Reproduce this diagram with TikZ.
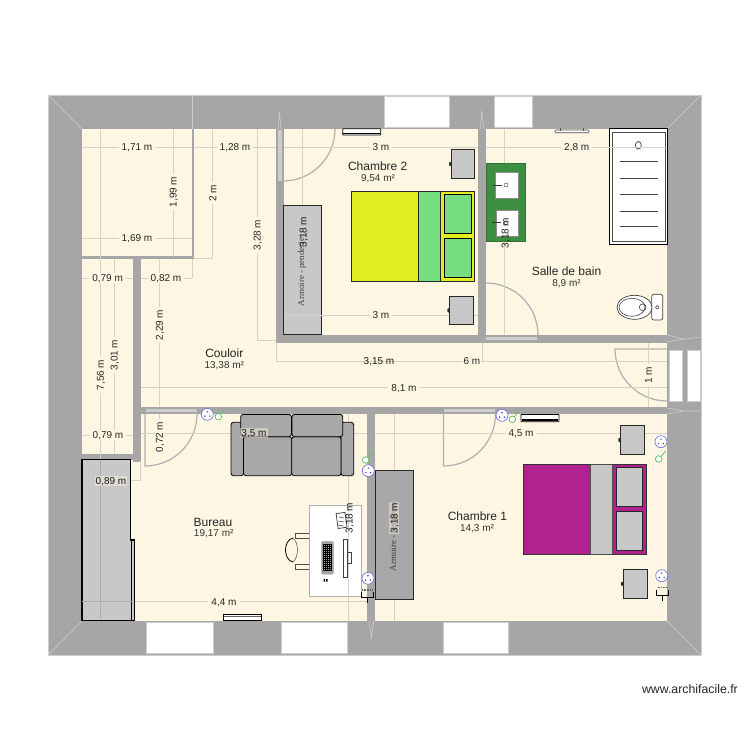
\documentclass[tikz,border=0pt]{standalone}
\usepackage{fontspec}
\setmainfont{Liberation Sans}
\newfontfamily\serifarm{Liberation Serif}
\definecolor{wallc}{RGB}{166,166,166}
\definecolor{floorc}{RGB}{252,246,226}
\definecolor{dimc}{RGB}{214,210,196}
\definecolor{lightw}{RGB}{205,205,205}
\definecolor{doorc}{RGB}{176,176,176}
\definecolor{furn}{RGB}{200,200,200}
\definecolor{sofac}{RGB}{168,168,168}
\definecolor{bedy}{RGB}{224,238,34}
\definecolor{bedg}{RGB}{116,222,128}
\definecolor{bedm}{RGB}{176,35,143}
\definecolor{sinkg}{RGB}{62,142,65}
\definecolor{sockc}{RGB}{60,60,210}
\definecolor{swc}{RGB}{90,190,100}
\definecolor{edgec}{RGB}{40,40,40}
\tikzset{
 wallfill/.style={fill=wallc,draw=none},
 winfill/.style={fill=white,draw=lightw,line width=0.8pt},
 doorbar/.style={fill=lightw,draw=none},
 doorline/.style={draw=doorc,line width=1.2pt},
 joinline/.style={draw=lightw,line width=0.6pt},
 dimline/.style={draw=dimc,line width=0.9pt},
 furnbox/.style={fill=furn,draw=edgec,line width=0.8pt},
 sofabox/.style={fill=sofac,draw=black,line width=0.8pt,rounded corners=2.5pt},
 plain/.style={draw=black,line width=0.8pt},
 armtext/.style={font=\serifarm\fontsize{9}{11}\selectfont,text=black!75,rotate=90,inner sep=0pt},
 lab/.style={font=\fontsize{10}{12}\selectfont,text=black!85,fill=floorc,inner xsep=3pt,inner ysep=1pt,text height=7.2pt,text depth=0pt},
 labsee/.style={font=\fontsize{10}{12}\selectfont,text=black!90,fill=floorc,fill opacity=0.45,text opacity=1,inner xsep=1pt,inner ysep=1pt,text height=7.2pt,text depth=0pt},
 labbare/.style={font=\fontsize{10}{12}\selectfont,text=black!90,inner sep=0pt,text height=7.2pt,text depth=0pt},
 room/.style={font=\fontsize{12}{14}\selectfont,text=black!85,inner sep=0pt},
 area/.style={font=\fontsize{10}{12}\selectfont,text=black!80,inner sep=0pt,text height=7.2pt,text depth=0pt},
}
\newcommand{\socket}[2]{%
 \fill[white,draw=sockc!70,line width=0.7pt] (#1,#2) circle[radius=6];
 \fill[sockc] (#1,#2-2.6) circle[radius=0.8] (#1-2.4,#2+1.8) circle[radius=0.8] (#1+2.4,#2+1.8) circle[radius=0.8];}
\newcommand{\switchgl}[4]{%
 \draw[swc,line width=0.7pt] (#1,#2) -- (#3,#4);
 \fill[white,draw=swc,line width=0.7pt] (#1,#2) circle[radius=3.3];}
\newcommand{\tvplug}[2]{%
 \draw[black!60,line width=1.2pt,dash pattern=on 1pt off 0.6pt] (#1-5,#2-4) -- (#1+5,#2-4);
 \draw[black,line width=1pt] (#1-6,#2-2) -- (#1-6,#2+3.5) -- (#1+6,#2+3.5) -- (#1+6,#2-2);
 \draw[black,line width=1pt] (#1,#2+3.5) -- (#1,#2+9);}
\newcommand{\stand}[4]{%
 \filldraw[fill=furn,draw=edgec,line width=0.8pt] (#1,#2) rectangle (#3,#4);
 \fill[edgec] (#1-1,{(#2+#4)/2}) ellipse[x radius=1,y radius=2.2];}
\begin{document}
\begin{tikzpicture}[x=1pt,y=-1pt]
\useasboundingbox (0,0) rectangle (750,750);
\fill[white] (0,0) rectangle (750,750);
% outer walls and floor
\filldraw[fill=wallc,draw=lightw,line width=0.8pt] (48,95) rectangle (701,655);
\fill[floorc] (82,129) rectangle (667,621);
% corner mitres and wall joins
\draw[joinline] (48,95) -- (82,129) (701,95) -- (667,129) (48,655) -- (82,621) (701,655) -- (667,621);
\draw[joinline] (192.7,96) -- (192.7,129);
\draw[joinline] (278,129) -- (279.5,112) -- (281,129) (480,129) -- (481.7,112) -- (484,129);
\draw[joinline] (369,621) -- (371.5,638) -- (373.5,621);
\draw[joinline] (667,335) -- (684,339) -- (701,337) (667,342) -- (684,339);
\draw[joinline] (667,408) -- (684,411) -- (701,411) (667,414) -- (684,411);
% interior walls
\fill[wallc] (191.7,129) rectangle (194.2,258.7);
\fill[wallc] (82,256.4) rectangle (194.2,258.7);
\fill[wallc] (132.7,258.7) rectangle (140.7,461.5);
\fill[wallc] (82,454) rectangle (140.7,459.5);
\fill[wallc] (137,407.2) rectangle (667,414.4);
\fill[wallc] (276,129) rectangle (284,343);
\fill[wallc] (276,334.5) rectangle (667,342.7);
\fill[wallc] (478,129) rectangle (486,343);
\fill[wallc] (367.3,414) rectangle (375.3,621);
% windows
\filldraw[winfill] (384,96) rectangle (449,127);
\filldraw[winfill] (494,96) rectangle (532,127);
\filldraw[winfill] (146.7,622) rectangle (213.7,653);
\filldraw[winfill] (281,622) rectangle (347.5,653);
\filldraw[winfill] (443,622) rectangle (508.5,653);
\filldraw[winfill] (669,350) rectangle (682,401);
\filldraw[winfill] (687,350) rectangle (700,401);
% door leaves in walls
\fill[doorbar] (278,130) rectangle (282,181);
\fill[doorbar] (486,337) rectangle (537,340);
\fill[doorbar] (146,409.3) rectangle (196.7,412);
\fill[doorbar] (444,409.3) rectangle (495,412);
% door swings
\draw[doorline] (335,129) .. controls (335,157.7) and (311.7,181) .. (283,181);
\draw[doorline] (486,283) .. controls (514.7,283) and (538,306.3) .. (538,335);
\draw[doorline] (145,414) -- (145,466) .. controls (173.7,466) and (197,442.7) .. (197,414);
\draw[doorline] (443.5,414) -- (443.5,466) .. controls (472.2,466) and (495.5,442.7) .. (495.5,414);
\draw[doorline] (667,349) -- (615,349) .. controls (615,377.7) and (638.3,401) .. (667,401);
% desk and shower lie under the dimension lines
\filldraw[fill=white,draw=doorc,line width=0.9pt] (309.3,505.7) rectangle (361,596);
\filldraw[fill=white,draw=black,line width=1pt] (609.3,128.3) rectangle (667.7,244.7);
\draw[black!70,line width=1pt] (612.7,132) rectangle (665.3,241.7);
\foreach \yy in {161,178.3,194,211.3,226.7} \draw[black!75,line width=0.9pt] (620,\yy) -- (657.7,\yy);
\draw[black!75,line width=0.7pt] (638.3,145.3) ellipse[x radius=3,y radius=3.8];
% dimension lines
\draw[dimline] (82,147) -- (192,147) (194,147) -- (276,147) (284,147) -- (478,147) (486,147) -- (667,147);
\draw[dimline] (82,238) -- (192,238);
\draw[dimline] (82,278) -- (133,278) (140.7,278) -- (192,278) (192,258.7) -- (192,278);
\draw[dimline] (173,129) -- (173,257);
\draw[dimline] (212.7,129) -- (212.7,258.7) (194,258.7) -- (212.7,258.7);
\draw[dimline] (257,129) -- (257,340) -- (276,340);
\draw[dimline] (159.3,258.7) -- (159.3,407);
\draw[dimline] (100.3,129) -- (100.3,621);
\draw[dimline] (114,258.7) -- (114,454);
\draw[dimline] (82,435) -- (133,435);
\draw[dimline] (140.7,433.3) -- (367,433.3) (375.3,433.3) -- (667,433.3);
\draw[dimline] (82,480.7) -- (140,480.7) (140,461) -- (140,480.7);
\draw[dimline] (159.3,414.4) -- (159.3,455);
\draw[dimline] (276.5,343) -- (276.5,361) -- (667,361) (482.3,343) -- (482.3,361);
\draw[dimline] (141,387.7) -- (667,387.7);
\draw[dimline] (648.3,343) -- (648.3,407);
\draw[dimline] (82,601.7) -- (367,601.7);
\draw[dimline] (302.3,129) -- (302.3,334.5);
\draw[dimline] (504.7,129) -- (504.7,334.5);
\draw[dimline] (348.5,414.4) -- (348.5,621);
\draw[dimline] (394,414.4) -- (394,621);
% armoires
\filldraw[furnbox] (283.3,205.7) rectangle (321.7,334.5);
\filldraw[fill=sofac,draw=edgec,line width=0.8pt] (375.7,470.7) rectangle (413.3,599.5);
\draw[dimline] (284,315.3) -- (478,315.3);
\node[armtext] (armoire2) at (302,272) {Armoire - penderie};
\node[armtext] (armoire1) at (394,537) {Armoire - penderie};
% left cupboard
\filldraw[fill=furn,draw=black,line width=1.3pt] (82,459.5) -- (130.8,459.5) -- (130.8,540) -- (134.8,540) -- (134.8,620.5) -- (82,620.5) -- cycle;
\draw[black,line width=1pt] (131.7,540) -- (131.7,620.5);
\draw[lightw!85!black,line width=0.8pt] (100.3,459.5) -- (100.3,620);
\draw[lightw!85!black,line width=0.8pt] (82,601.7) -- (134,601.7);
% beds
\filldraw[fill=bedy,draw=edgec,line width=0.8pt] (351.7,191.7) rectangle (474.3,281.7);
\filldraw[fill=bedg,draw=edgec,line width=0.8pt] (418.3,191.7) rectangle (440.7,281.7);
\filldraw[fill=bedg,draw=black,line width=1pt] (444.3,194.3) rectangle (471,233.3);
\filldraw[fill=bedg,draw=black,line width=1pt] (444.3,238.3) rectangle (471,277.7);
\filldraw[fill=bedm,draw=black!80,line width=0.8pt] (523.3,464.3) rectangle (646,554.3);
\filldraw[fill=furn,draw=black!70,line width=0.8pt] (590,464.3) rectangle (612.3,554.3);
\filldraw[fill=furn,draw=black!85,line width=1pt] (616,467.3) rectangle (642.7,506);
\filldraw[fill=furn,draw=black!85,line width=1pt] (616,511.7) rectangle (642.7,550.7);
% bedside tables
\stand{451}{149.3}{474.7}{178.7}
\stand{449.3}{296}{473.7}{324.7}
\stand{620.3}{425.3}{644.7}{454.7}
\stand{623}{569}{647.7}{598.7}
% basin unit
\filldraw[fill=sinkg,draw=sinkg!80!black,line width=0.6pt] (486,163.3) rectangle (525,241.7);
\filldraw[fill=white,draw=black!45,line width=1pt] (495.3,172.3) rectangle (518.3,198.7);
\filldraw[fill=white,draw=black!45,line width=1pt] (496.7,210) rectangle (518.3,236);
\draw[black!80,line width=0.9pt] (493.3,185) -- (501.7,185) (492.3,222.7) -- (500.7,222.7);
\draw[black!70,line width=0.5pt] (506,185) circle[radius=2];
\draw[black!70,line width=0.5pt] (506,222.7) circle[radius=2];
% toilet
\filldraw[fill=white,draw=black!75,line width=0.7pt,rounded corners=2pt] (651.7,294.3) rectangle (662.7,320);
\draw[black!75,line width=0.7pt,fill=white] (634.5,307.3) ellipse[x radius=17.5,y radius=12];
\draw[black!75,line width=0.6pt] (632,307.3) ellipse[x radius=13,y radius=9];
\draw[black!75,line width=0.6pt] (642.7,307.3) circle[radius=3.4];
\draw[black!75,line width=0.5pt] (657.3,307.3) circle[radius=1.8];
% radiators
\filldraw[fill=white,draw=black,line width=0.8pt,rounded corners=0.6pt] (342.7,128.7) rectangle (380.7,135);
\draw[black,line width=1.2pt] (343,133.5) -- (380,133.5);
\filldraw[fill=white,draw=black!70,line width=0.6pt,rounded corners=1pt] (555,130) rectangle (589,132.7);
\draw[black!70,line width=0.8pt] (560,128) -- (560,131) (583,128) -- (583,131);
\filldraw[fill=white,draw=black,line width=0.7pt] (223,614.3) rectangle (261.7,620.8);
\draw[black!60,line width=0.5pt] (223.5,615.8) -- (261,615.8);
\filldraw[fill=white,draw=black,line width=0.8pt,rounded corners=0.6pt] (521,414.4) rectangle (559,421.7);
\draw[black,line width=1.2pt] (522,420) -- (558,420);
% sofa
\filldraw[sofabox] (231,422.3) rectangle (243.5,475.7);
\filldraw[sofabox] (341,422.3) rectangle (353.7,475.7);
\filldraw[sofabox] (243.5,436.7) rectangle (291.7,475.7);
\filldraw[sofabox] (291.7,436.7) rectangle (341,475.7);
\filldraw[sofabox] (240.7,414.4) rectangle (291.4,436.7);
\filldraw[sofabox] (292,414.4) rectangle (342.7,436.7);
% desk objects
\draw[black!70,line width=0.7pt] (309.3,533.3) -- (295,533.3) -- (295,538.3) -- (309.3,538.3);
\draw[black!70,line width=0.7pt] (309.3,564) -- (295,564) -- (295,569) -- (309.3,569);
\draw[black,line width=0.8pt] (293,538) .. controls (283,540) and (283,560) .. (293,562);
\draw[black!60,line width=0.6pt] (293,538) .. controls (299,543) and (299,557) .. (293,562);
\filldraw[fill=black!35,draw=black!40,line width=0.6pt,rounded corners=1pt] (321.7,541.7) rectangle (333.3,574);
\foreach \xx in {323.5,325.5,327.5,329.5,331.5} \draw[black,line width=0.35pt] (\xx,544) -- (\xx,571);
\foreach \yy in {544,546,...,570} \draw[black,line width=0.35pt] (323,\yy) -- (332,\yy);
\draw[black!75,line width=0.7pt] (343.3,539) rectangle (347.7,577);
\draw[black!75,line width=0.6pt] (347.7,552.7) rectangle (351.7,563);
\fill[black] (323.5,579) rectangle (325,581.5) (326,579) rectangle (327.5,581.5);
\draw[black!80,line width=0.7pt,rotate around={8:(341,520)}] (337,513) rectangle (346,528);
\draw[black!70,line width=0.6pt] (339,517) -- (344,518) (338.5,521) -- (344,522) (338,525) -- (343.5,526);
% sockets and switches
\socket{207.3}{414.3}
\socket{368.3}{470.7}
\socket{502}{415.3}
\socket{661}{441.7}
\socket{368}{578.3}
\socket{661.7}{575.7}
\switchgl{218.3}{416.7}{225}{408}
\switchgl{365.7}{460}{373}{451.7}
\switchgl{512.3}{419.3}{519}{411}
\switchgl{658.7}{459}{666}{450.7}
\tvplug{367}{594}
\tvplug{662.7}{591.5}
% dimension labels
\node[lab] (d1) at (137,147) {1,71 m};
\node[lab] (d2) at (235,147) {1,28 m};
\node[lab] (d3) at (381,147) {3 m};
\node[lab] (d4) at (576.7,147) {2,8 m};
\node[lab] (d5) at (137,238) {1,69 m};
\node[lab] (d6) at (107.6,278) {0,79 m};
\node[lab] (d7) at (166,278) {0,82 m};
\node[lab,rotate=90] (d8) at (173,192) {1,99 m};
\node[lab,rotate=90] (d9) at (212.7,193) {2 m};
\node[lab,rotate=90] (d10) at (257,235) {3,28 m};
\node[lab,rotate=90] (d11) at (159.3,325) {2,29 m};
\node[lab,rotate=90] (d12) at (100.3,375) {7,56 m};
\node[lab,rotate=90] (d13) at (114,355) {3,01 m};
\node[lab] (d14) at (108,435) {0,79 m};
\node[labsee] (d15) at (111,481) {0,89 m};
\node[lab,rotate=90] (d16) at (159.3,437) {0,72 m};
\node[labsee] (d17) at (254,433) {3,5 m};
\node[lab] (d18) at (521,433) {4,5 m};
\node[labbare] (d19) at (379,361) {3,15 m};
\node[lab,inner xsep=1pt] (d20) at (472,361) {6 m};
\node[lab] (d21) at (404,388) {8,1 m};
\node[lab,rotate=90] (d22) at (648.3,375) {1 m};
\node[lab] (d23) at (224,602) {4,4 m};
\node[lab,fill opacity=1] (d24) at (381,315.3) {3 m};
\node[labbare,rotate=90] (d25) at (303,232) {3,18 m};
\node[labbare,rotate=90] (d26) at (505,233) {3,18 m};
\node[labbare,rotate=90] (d27) at (349,518) {3,18 m};
\node[labsee,rotate=90] (d28) at (394,518) {3,18 m};
% room names
\node[room] (r1) at (377.7,166) {Chambre 2};
\node[area] (a1) at (378,177.5) {9,54 m²};
\node[room] (r2) at (566.5,271) {Salle de bain};
\node[area] (a2) at (566.5,282.5) {8,9 m²};
\node[room] (r3) at (224.3,353) {Couloir};
\node[area] (a3) at (224.3,364.5) {13,38 m²};
\node[room] (r4) at (213,522) {Bureau};
\node[area] (a4) at (213.7,533) {19,17 m²};
\node[room] (r5) at (477.5,516) {Chambre 1};
\node[area] (a5) at (477,527.5) {14,3 m²};
\node[room,anchor=east,font=\fontsize{12.3}{14}\selectfont] (w) at (738,689) {www.archifacile.fr};
\end{tikzpicture}
\end{document}
